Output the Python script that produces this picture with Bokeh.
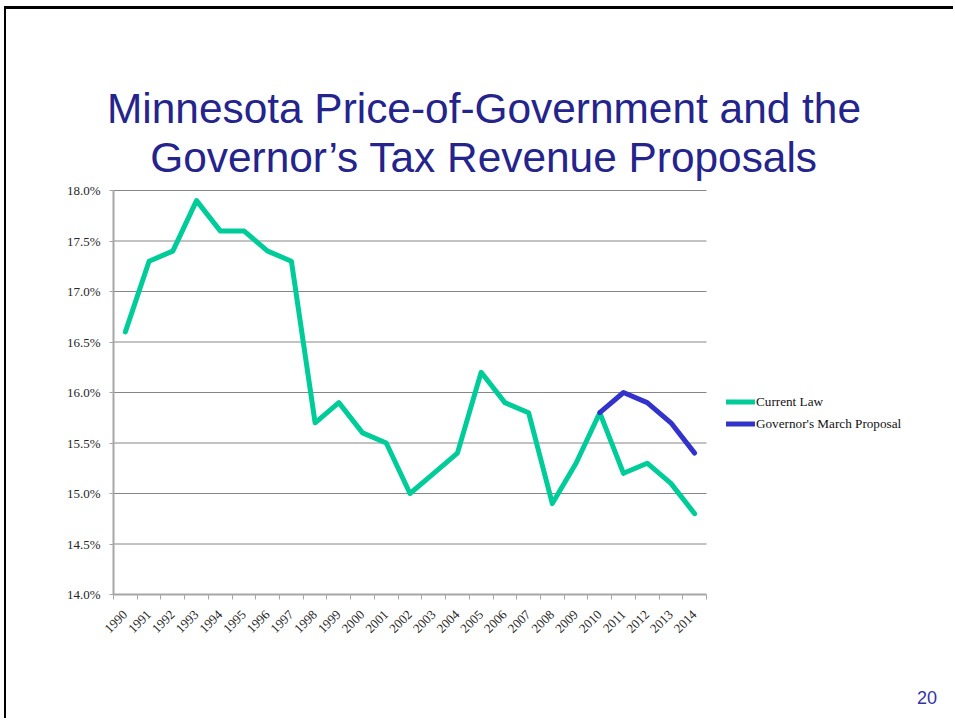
from bokeh.plotting import figure
from bokeh.models import (Range1d, FixedTicker, PrintfTickFormatter, Label,
                          Legend, LegendItem)
from bokeh.embed import file_html
from bokeh.resources import INLINE
import math

# ---- data ----
years = [1990, 1991, 1992, 1993, 1994, 1995, 1996, 1997, 1998, 1999, 2000, 2001,
         2002, 2003, 2004, 2005, 2006, 2007, 2008, 2009, 2010, 2011, 2012, 2013, 2014]
current_law = [16.6, 17.3, 17.4, 17.9, 17.6, 17.6, 17.4, 17.3, 15.7, 15.9, 15.6, 15.5,
               15.0, 15.2, 15.4, 16.2, 15.9, 15.8, 14.9, 15.3, 15.8, 15.2, 15.3, 15.1, 14.8]
gov_years = [2010, 2011, 2012, 2013, 2014]
gov_proposal = [15.8, 16.0, 15.9, 15.7, 15.4]
y_ticks = [14.0, 14.5, 15.0, 15.5, 16.0, 16.5, 17.0, 17.5, 18.0]
title_lines = ["Minnesota Price-of-Government and the",
               "Governor\u2019s Tax Revenue Proposals"]
series_names = ["Current Law", "Governor's March Proposal"]
page_number = "20"

# ---- layout (page pixels) ----
W, H = 949, 712
CX, CY = 6, 9                      # canvas origin on the page
PL, PR, PT, PB = 113, 706, 190, 594  # chart area on the page
x0, x1 = years[0] - 0.5, years[-1] + 0.5
y0, y1 = y_ticks[0], y_ticks[-1]
kx = (PR - PL) / (x1 - x0)
ky = (PB - PT) / (y1 - y0)
xr = Range1d(x0 - (PL - CX) / kx, x1 + (CX + W - PR) / kx)
yr = Range1d(y0 - (CY + H - PB) / ky, y1 + (PT - CY) / ky)


def sx(px):
    return px - CX


def sy(py):
    return CY + H - py


SERIF = "'Liberation Serif', 'Times New Roman', serif"
SANS = "'Liberation Sans', Arial, sans-serif"

p = figure(width=W, height=H, output_backend="svg", toolbar_location=None,
           x_range=xr, y_range=yr, min_border=0)
p.margin = (6, 0, 0, 4)
p.styles = {"border-top": "3px solid black", "border-left": "2px solid black"}
p.outline_line_color = None
p.background_fill_color = "white"
p.border_fill_color = "white"
p.xgrid.visible = False
p.ygrid.visible = False

axis_col = "#A6A6A6"
# y axis
yax = p.yaxis[0]
yax.fixed_location = x0
yax.bounds = (y0, y1)
yax.ticker = FixedTicker(ticks=y_ticks, minor_ticks=[])
yax.formatter = PrintfTickFormatter(format="%.1f%%")
yax.axis_line_color = axis_col
yax.axis_line_width = 2
yax.major_tick_line_color = axis_col
yax.major_tick_out = 4
yax.major_tick_in = 0
yax.minor_tick_line_color = None
yax.major_label_standoff = 9
yax.major_label_text_font = SERIF
yax.major_label_text_font_size = "13px"
yax.major_label_text_color = "#262626"

# x axis
xax = p.xaxis[0]
xax.fixed_location = y0
xax.bounds = (x0, x1)
minor = [y - 0.5 for y in years] + [years[-1] + 0.5]
xax.ticker = FixedTicker(ticks=years, minor_ticks=minor)
xax.formatter = PrintfTickFormatter(format="%d")
xax.axis_line_color = axis_col
xax.axis_line_width = 2
xax.major_tick_line_color = None
xax.minor_tick_line_color = axis_col
xax.minor_tick_out = 5
xax.minor_tick_in = 0
xax.major_label_orientation = math.pi / 4
xax.major_label_standoff = 12
xax.major_label_text_font = SERIF
xax.major_label_text_font_size = "13px"
xax.major_label_text_color = "#262626"

# horizontal gridlines across the chart area only
gl = y_ticks[1:]
p.segment(x0=[x0] * len(gl), x1=[x1] * len(gl), y0=gl, y1=gl,
          line_color="#868686", line_width=1)

# lines
r1 = p.line(years, current_law, line_color="#00CC99", line_width=5,
            line_join="round", line_cap="round")
r2 = p.line(gov_years, gov_proposal, line_color="#3333CC", line_width=5,
            line_join="round", line_cap="round")

legend = Legend(items=[LegendItem(label=series_names[0], renderers=[r1]),
                       LegendItem(label=series_names[1], renderers=[r2])],
                location=(sx(726), sy(431.5)), orientation="vertical",
                glyph_width=29, glyph_height=15, label_height=15,
                label_standoff=1, spacing=6, padding=0, margin=0,
                border_line_color=None, background_fill_alpha=0,
                label_text_font=SERIF, label_text_font_size="13.2px",
                label_text_color="#111111")
p.add_layout(legend)

# title
title_col = "#24248C"
for i, txt in enumerate(title_lines):
    p.add_layout(Label(x=sx(483.5), y=sy(122.3 - 14.5 + 49.5 * i), x_units="screen",
                       y_units="screen", text=txt, text_align="center",
                       text_baseline="alphabetic", text_font=SANS,
                       text_font_size="42.4px", text_color=title_col))

# page number
p.add_layout(Label(x=sx(936.5), y=sy(701.7 - 5), x_units="screen", y_units="screen",
                   text=page_number, text_align="right", text_baseline="alphabetic",
                   text_font=SANS, text_font_size="18px", text_color="#3434A8"))

open("out.html", "w").write(file_html(p, INLINE))
